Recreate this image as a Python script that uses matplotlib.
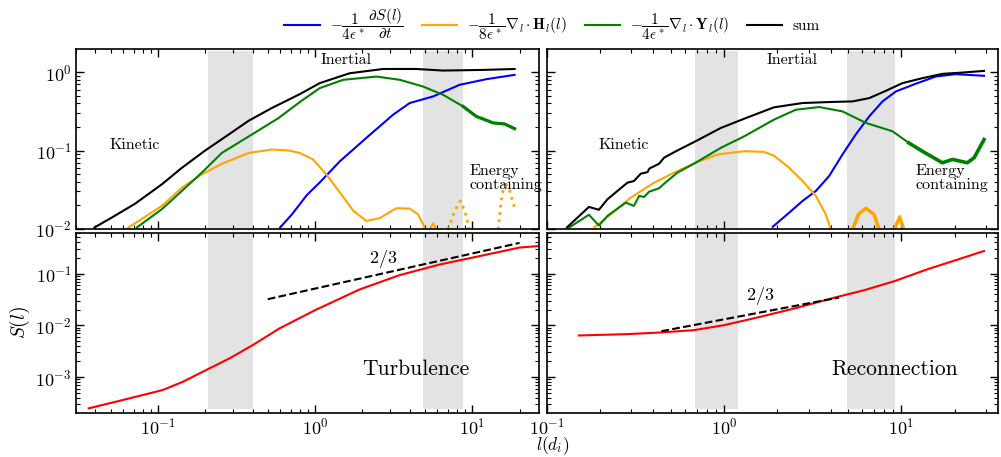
import numpy as np
import matplotlib.pyplot as plt

plt.rcParams['font.family'] = 'serif'
plt.rcParams['font.serif'] = ['cmr10', 'DejaVu Serif']
plt.rcParams['mathtext.fontset'] = 'cm'
plt.rcParams['axes.formatter.use_mathtext'] = True
plt.rcParams['axes.linewidth'] = 1.2

# ---- Turbulence (left column) ----
tb_dsdt_l = [0.6, 0.713, 0.80, 0.887, 1.07, 1.44, 2.12, 3.14, 4.0, 5.63, 8.3, 12.3, 18.6]
tb_dsdt = [0.0104, 0.0153, 0.0206, 0.027, 0.039, 0.073, 0.145, 0.287, 0.404, 0.49, 0.69, 0.815, 0.925]

tb_h_l = [0.065, 0.106, 0.142, 0.19, 0.255, 0.378, 0.531, 0.678, 0.80, 0.97, 1.18, 1.44, 1.75,
          2.12, 2.58, 3.29, 4.0, 4.52, 4.91, 5.0]
tb_h = [0.0104, 0.0196, 0.0335, 0.0495, 0.0677, 0.093, 0.103, 0.10, 0.093, 0.077, 0.0495, 0.029,
        0.017, 0.0126, 0.0137, 0.0183, 0.0181, 0.0153, 0.011, 0.0098]
tb_h2_l = [5.35, 5.65, 5.95]
tb_h2 = [0.0098, 0.0117, 0.0098]
# negative parts, drawn dotted
tb_hneg1_l = [7.0, 7.74, 8.4, 8.96, 9.6]
tb_hneg1 = [0.0098, 0.017, 0.0227, 0.017, 0.0098]
tb_hneg2_l = [14.6, 15.3, 16.1, 17.3, 18.6]
tb_hneg2 = [0.0098, 0.0227, 0.0407, 0.0304, 0.0187]

tb_y_l = [0.0735, 0.106, 0.142, 0.19, 0.255, 0.396, 0.586, 0.80, 1.07, 1.51, 2.46, 3.46, 4.86,
          6.52, 8.74, 10.6, 13.6, 16.1, 18.6]
tb_y = [0.0104, 0.0178, 0.0304, 0.052, 0.093, 0.16, 0.26, 0.416, 0.626, 0.80, 0.88, 0.80, 0.657,
        0.515, 0.366, 0.273, 0.225, 0.218, 0.19]

tb_sum_l = [0.0395, 0.0509, 0.0718, 0.106, 0.142, 0.200, 0.282, 0.378, 0.531, 0.80, 1.07, 1.66,
            2.71, 4.41, 6.52, 11.7, 18.6]
tb_sum = [0.0104, 0.0139, 0.021, 0.037, 0.060, 0.100, 0.160, 0.24, 0.349, 0.525, 0.725, 0.97,
          1.10, 1.10, 1.05, 1.07, 1.10]

tb_s_l = [0.0363, 0.0597, 0.107, 0.144, 0.202, 0.285, 0.401, 0.593, 1.0, 1.91, 3.44, 6.18, 10.1,
          20.0, 26.9]
tb_s = [2.49e-4, 3.6e-4, 5.6e-4, 8.1e-4, 1.36e-3, 2.29e-3, 4.14e-3, 8.69e-3, 0.0196, 0.049,
        0.093, 0.149, 0.204, 0.318, 0.342]
tb_fit_l = [0.50, 20.0]
tb_fit = [0.032, 0.391]

# ---- Reconnection (right column) ----
rc_dsdt_l = [1.88, 2.33, 2.77, 3.29, 3.91, 4.65, 5.52, 6.58, 7.82, 9.3, 12.0, 15.6, 20.2, 29.2]
rc_dsdt = [0.0106, 0.0161, 0.0227, 0.0304, 0.0472, 0.089, 0.16, 0.273, 0.424, 0.568, 0.711,
           0.881, 0.944, 0.90]

rc_h_l = [0.185, 0.23, 0.298, 0.403, 0.545, 0.69, 0.917, 1.30, 1.68, 1.91, 2.33, 2.77, 3.29,
          3.74, 4.0]
rc_h = [0.0104, 0.0153, 0.025, 0.0388, 0.0546, 0.0697, 0.089, 0.098, 0.096, 0.086, 0.060,
        0.0407, 0.0263, 0.0153, 0.0098]
rc_h2_l = [5.3, 5.72, 6.3, 7.0, 7.48]
rc_h2 = [0.0098, 0.0153, 0.0183, 0.0153, 0.0098]
rc_h3_l = [9.1, 9.78, 10.3]
rc_h3 = [0.0098, 0.0142, 0.0098]

rc_y_l = [0.134, 0.173, 0.197, 0.22, 0.279, 0.31, 0.332, 0.354, 0.378, 0.43, 0.459, 0.545, 0.69,
          0.958, 1.30, 1.91, 2.54, 3.44, 4.65, 6.3, 8.9, 11.0, 13.1, 17.0, 19.4, 23.5, 25.7, 29.2]
rc_y = [0.0104, 0.0151, 0.011, 0.0146, 0.0216, 0.0196, 0.0263, 0.0255, 0.0298, 0.0329, 0.0377,
        0.052, 0.0697, 0.108, 0.152, 0.248, 0.332, 0.359, 0.316, 0.225, 0.176, 0.125, 0.098,
        0.0697, 0.0769, 0.0697, 0.081, 0.138]

rc_sum_l = [0.13, 0.173, 0.197, 0.22, 0.285, 0.31, 0.339, 0.37, 0.38, 0.43, 0.459, 0.545, 0.69,
            0.958, 1.30, 1.91, 2.77, 3.91, 5.3, 6.58, 8.17, 10.1, 13.1, 17.0, 22.1, 29.2]
rc_sum = [0.0104, 0.019, 0.0175, 0.0238, 0.0388, 0.0407, 0.0505, 0.053, 0.059, 0.0677, 0.081,
          0.10, 0.131, 0.194, 0.255, 0.356, 0.404, 0.416, 0.424, 0.467, 0.579, 0.724, 0.839,
          0.953, 0.99, 1.04]

rc_s_l = [0.152, 0.285, 0.44, 0.678, 1.0, 1.54, 2.48, 4.36, 6.15, 9.1, 14.0, 21.6, 29.2]
rc_s = [0.00637, 0.00676, 0.00728, 0.00807, 0.01007, 0.01416, 0.0211, 0.0355, 0.0476, 0.0711,
        0.121, 0.195, 0.273]
rc_fit_l = [0.443, 4.45]
rc_fit = [0.0077, 0.0344]

tb_bands = [(0.207, 0.403), (4.84, 8.79)]
rc_bands = [(0.686, 1.205), (4.96, 9.2)]

lab_dsdt = r'$-\dfrac{1}{4\epsilon^*}\dfrac{\partial S(l)}{\partial t}$'
lab_h = r'$-\dfrac{1}{8\epsilon^*}\nabla_l\cdot\mathbf{H}_l(l)$'
lab_y = r'$-\dfrac{1}{4\epsilon^*}\nabla_l\cdot\mathbf{Y}_l(l)$'

fig, axs = plt.subplots(2, 2, figsize=(10.01, 4.57), dpi=100, sharex='col', sharey='row',
                        gridspec_kw={'width_ratios': [463, 451]})
fig.subplots_adjust(left=75.7/1001, right=998/1001, top=1-49/457, bottom=1-412.7/457,
                    wspace=0.0168, hspace=0.023)

lw = 1.5
for col, bands in enumerate([tb_bands, rc_bands]):
    for lo, hi in bands:
        axs[0, col].axvspan(lo, hi, ymin=0, ymax=0.989, color='#e3e3e3', lw=0, zorder=0)
        axs[1, col].axvspan(lo, hi, ymin=0.02, ymax=1, color='#e3e3e3', lw=0, zorder=0)

# top left
ax = axs[0, 0]
ax.plot(tb_dsdt_l, tb_dsdt, color='blue', lw=lw, label=lab_dsdt)
ax.plot(tb_h_l, tb_h, color='orange', lw=lw, label=lab_h)
ax.plot(tb_y_l, tb_y, color='green', lw=lw, label=lab_y)
ax.plot(tb_sum_l, tb_sum, color='black', lw=lw, label='sum')
ax.plot(tb_y_l[-5:], tb_y[-5:], color='green', lw=2.3)
ax.plot(tb_h2_l, tb_h2, color='orange', lw=lw)
ax.plot(tb_hneg1_l, tb_hneg1, color='orange', lw=2, ls=':')
ax.plot(tb_hneg2_l, tb_hneg2, color='orange', lw=2, ls=':')
ax.text(0.071, 0.117, 'Kinetic', fontsize=11.5, ha='center', va='center')
ax.text(1.58, 1.41, 'Inertial', fontsize=11.5, ha='center', va='center')
ax.text(9.55, 0.045, 'Energy\ncontaining', fontsize=11.5, ha='left', va='center', linespacing=1.0)

# top right
ax = axs[0, 1]
ax.plot(rc_dsdt_l, rc_dsdt, color='blue', lw=lw)
ax.plot(rc_h_l, rc_h, color='orange', lw=lw)
ax.plot(rc_h2_l, rc_h2, color='orange', lw=2.5)
ax.plot(rc_h3_l, rc_h3, color='orange', lw=2.5)
ax.plot(rc_y_l, rc_y, color='green', lw=lw)
ax.plot(rc_y_l[-7:], rc_y[-7:], color='green', lw=2.6)
ax.plot(rc_sum_l, rc_sum, color='black', lw=lw)
ax.text(0.27, 0.117, 'Kinetic', fontsize=11.5, ha='center', va='center')
ax.text(2.42, 1.41, 'Inertial', fontsize=11.5, ha='center', va='center')
ax.text(12.0, 0.044, 'Energy\ncontaining', fontsize=11.5, ha='left', va='center', linespacing=1.0)

# bottom left
ax = axs[1, 0]
ax.plot(tb_s_l, tb_s, color='red', lw=lw)
ax.plot(tb_fit_l, tb_fit, color='black', lw=lw, ls='--')
ax.text(2.7, 0.195, '$2/3$', fontsize=13, ha='center', va='center')
ax.text(4.35, 1.41e-3, 'Turbulence', fontsize=15.5, ha='center', va='center')
ax.set_ylabel('$S(l)$', fontsize=14, labelpad=2)

# bottom right
ax = axs[1, 1]
ax.plot(rc_s_l, rc_s, color='red', lw=lw)
ax.plot(rc_fit_l, rc_fit, color='black', lw=lw, ls='--')
ax.text(1.6, 0.037, '$2/3$', fontsize=13, ha='center', va='center')
ax.text(9.1, 1.41e-3, 'Reconnection', fontsize=15.5, ha='center', va='center')

for ax in axs.flat:
    ax.set_xscale('log')
    ax.set_yscale('log')
    ax.tick_params(which='both', direction='in', top=True, right=True, labelsize=13)
    ax.tick_params(which='major', length=6, width=1, pad=3)
    ax.tick_params(which='minor', length=3, width=0.8)

axs[0, 0].set_xlim(0.03, 26.6)
axs[0, 1].set_xlim(0.1, 35)
axs[0, 0].set_ylim(0.01, 1.98)
axs[1, 0].set_ylim(2.05e-4, 0.61)

fig.text(553/1001, 1-446/457, '$l(d_i)$', fontsize=12.5, ha='center', va='center')

h, l = axs[0, 0].get_legend_handles_labels()
fig.legend(h, l, loc='center', bbox_to_anchor=(552/1001, 1-24/457), ncol=4, frameon=False,
           fontsize=11, handlelength=2.3, handletextpad=0.65, columnspacing=1.2)

fig.savefig('out.png', dpi=100)
